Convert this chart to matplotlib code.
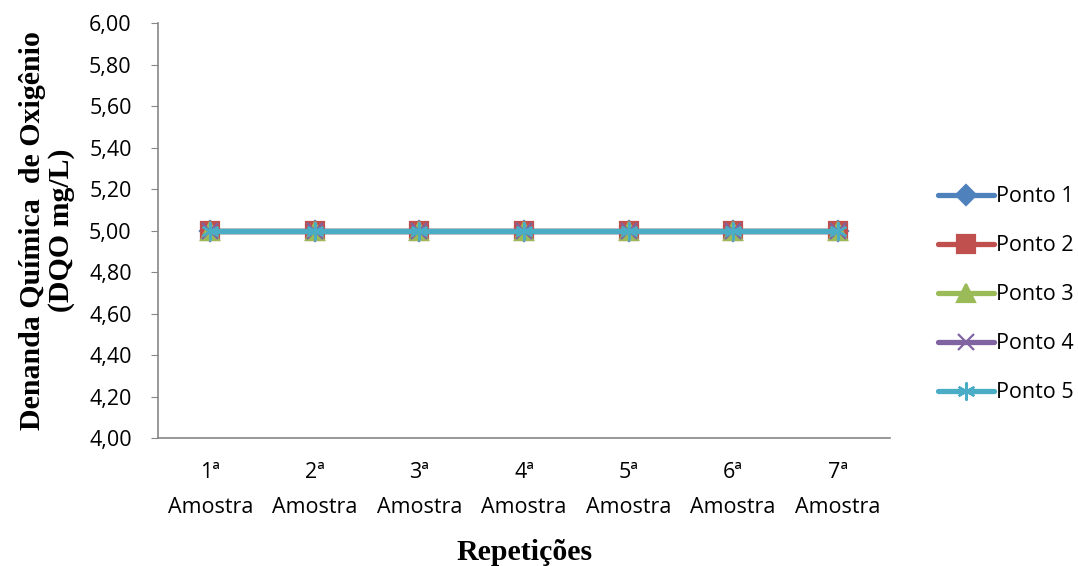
import matplotlib.pyplot as plt
from matplotlib.ticker import FuncFormatter

amostras = ['1ª\nAmostra', '2ª\nAmostra', '3ª\nAmostra', '4ª\nAmostra',
            '5ª\nAmostra', '6ª\nAmostra', '7ª\nAmostra']
ponto1 = [5.0, 5.0, 5.0, 5.0, 5.0, 5.0, 5.0]
ponto2 = [5.0, 5.0, 5.0, 5.0, 5.0, 5.0, 5.0]
ponto3 = [5.0, 5.0, 5.0, 5.0, 5.0, 5.0, 5.0]
ponto4 = [5.0, 5.0, 5.0, 5.0, 5.0, 5.0, 5.0]
ponto5 = [5.0, 5.0, 5.0, 5.0, 5.0, 5.0, 5.0]
nomes = ['Ponto 1', 'Ponto 2', 'Ponto 3', 'Ponto 4', 'Ponto 5']

cores = ['#4F81BD', '#C0504D', '#9BBB59', '#8064A2', '#4BACC6']
marcadores = ['D', 's', '^', 'x', (6, 2, 0)]
tamanhos = [10, 13, 13, 12, 13]

fig = plt.figure(figsize=(10.78, 5.66), dpi=100)
ax = fig.add_axes([0.1466, 0.2261, 0.679, 0.7332])

x = list(range(len(amostras)))
for serie, nome, cor, mk, ms in zip([ponto1, ponto2, ponto3, ponto4, ponto5],
                                    nomes, cores, marcadores, tamanhos):
    ax.plot(x, serie, color=cor, lw=3.8, marker=mk, markersize=ms,
            markeredgecolor=cor, markeredgewidth=1.6, label=nome,
            solid_capstyle='round')

ax.set_xlim(-0.5, len(amostras) - 0.5)
ax.set_ylim(4.0, 6.0)
ax.set_yticks([4.0 + 0.2 * i for i in range(11)])
ax.yaxis.set_major_formatter(FuncFormatter(lambda v, p: f'{v:.2f}'.replace('.', ',')))
ax.set_xticks(x)
ax.set_xticklabels(amostras, fontfamily='Open Sans', fontsize=15.5, linespacing=1.9)
for lbl in ax.get_yticklabels():
    lbl.set_fontfamily('Open Sans')
    lbl.set_fontsize(15.5)

for s in ['top', 'right']:
    ax.spines[s].set_visible(False)
for s in ['left', 'bottom']:
    ax.spines[s].set_color('#868686')
    ax.spines[s].set_linewidth(1.2)
ax.tick_params(axis='y', direction='out', length=5, color='#868686', pad=14)
ax.tick_params(axis='x', length=0, pad=17)

ax.set_ylabel('Denanda Química  de Oxigênio\n(DQO mg/L)', fontfamily='Liberation Serif',
              fontweight='bold', fontsize=21.5, linespacing=1.1, labelpad=10)
ax.set_xlabel('Repetições', fontfamily='Liberation Serif', fontweight='bold',
              fontsize=21.5, labelpad=15)

leg = fig.legend(loc='center left', bbox_to_anchor=(0.862, 0.479), frameon=False,
                 prop={'family': 'Open Sans', 'size': 15.5}, handlelength=2.6,
                 labelspacing=1.3, handletextpad=0.1, borderaxespad=0)

fig.savefig('out.png', dpi=100)
